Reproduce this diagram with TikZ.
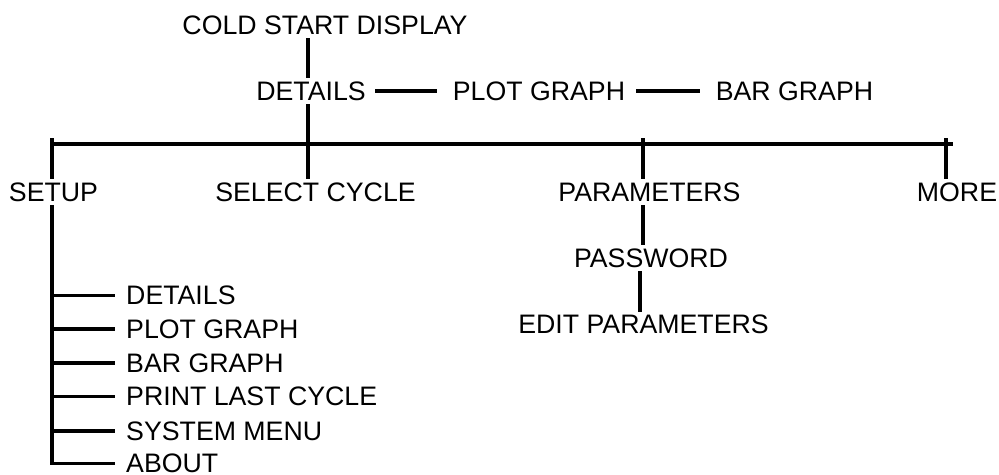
\documentclass[tikz,border=0pt]{standalone}
\usepackage{fontspec}
\setmainfont{Liberation Sans}
\usetikzlibrary{positioning}

\tikzset{
  menu/.style={font=\fontsize{19}{23}\selectfont,inner xsep=0pt,inner ysep=3.5pt,
    text height=13.4pt,text depth=0pt},
  sub/.style={menu,anchor=west,inner xsep=9.2pt},
  link/.style={line width=2.5pt,line cap=rect}
}

\begin{document}
\begin{tikzpicture}[x=0.025cm,y=-0.025cm]
 \useasboundingbox (0,0) rectangle (999,474);
 % top of the menu
 \node[menu] (cold) at (325,25.5) {COLD START DISPLAY};
 \node[menu] (det) at (311,91) {DETAILS};
 \node[menu] (plot) at (539,91) {PLOT GRAPH};
 \node[menu] (bar) at (794.5,91) {BAR GRAPH};
 \node[menu] (setup) at (53.5,192) {SETUP};
 \node[menu] (sel) at (315.5,192) {SELECT CYCLE};
 \node[menu] (par) at (649.5,192) {PARAMETERS};
 \node[menu] (more) at (957,192) {MORE};
 \node[menu] (pw) at (651,258) {PASSWORD};
 \node[menu] (edit) at (643.5,324.5) {EDIT PARAMETERS};
 % setup sub menu
 \foreach \y/\n/\t in {295.5/sdet/DETAILS,329/splot/PLOT GRAPH,363/sbar/BAR GRAPH,
   396.5/sprint/PRINT LAST CYCLE,431/ssys/SYSTEM MENU,463.5/about/ABOUT}
   {\node[sub] (\n) at (113,\y) {\t};}
 \coordinate (busL) at (52,144);
 \coordinate (busR) at (951,144);
 \coordinate (tapS) at (52,140);
 \coordinate (tapP) at (643,140);
 \coordinate (tapM) at (946,140);
 \coordinate (trunk) at (308,0);
 \draw[link] (trunk |- cold.south) -- (trunk |- det.north);
 \draw[link,shorten <=8pt,shorten >=12pt] (det.east) -- (plot.west);
 \draw[link,shorten <=9pt,shorten >=12pt] (plot.east) -- (bar.west);
 \draw[link] (trunk |- det.south) -- (trunk |- sel.north);
 \draw[link] (busL) -- (busR);
 \foreach \c/\n in {tapS/setup,tapP/par,tapM/more}
   {\draw[link] (\c) -- (\c |- \n.north);}
 \draw[link] (tapP |- par.south) -- (tapP |- pw.north);
 \draw[link] ([xshift=-2pt]tapP |- pw.south) -- ([xshift=-2pt]tapP |- edit.north);
 \draw[link] (tapS |- setup.south) -- (tapS |- about.west);
 \foreach \n in {sdet,splot,sbar,sprint,ssys,about}
   {\draw[link] (tapS |- \n.west) -- (\n.west);}
\end{tikzpicture}
\end{document}
